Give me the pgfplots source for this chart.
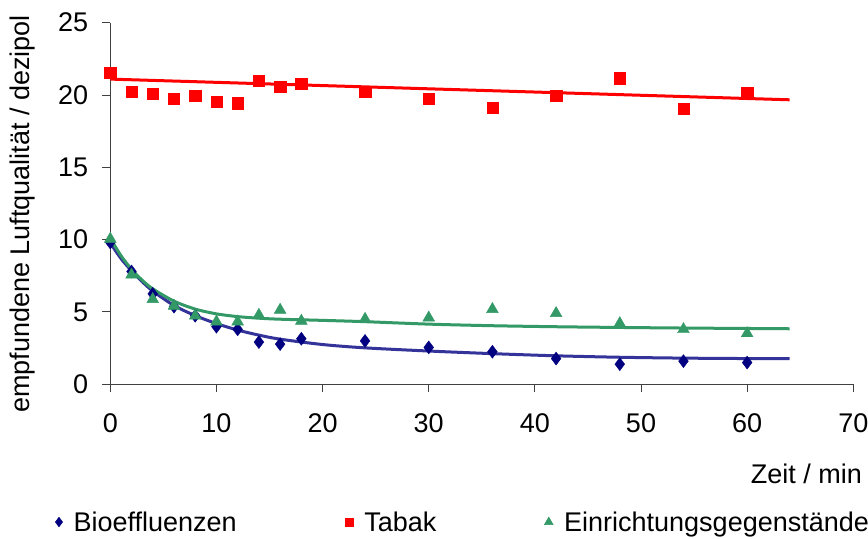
\documentclass[border=0pt]{standalone}
\usepackage{pgfplots}
\pgfplotsset{compat=1.18}
\usepackage{fontspec}
\setmainfont{Liberation Sans}
\definecolor{bionavy}{RGB}{0,0,128}
\definecolor{biofit}{RGB}{51,51,153}
\definecolor{tabred}{RGB}{255,0,0}
\definecolor{eingreen}{RGB}{51,153,102}
\definecolor{axgray}{RGB}{64,64,64}
\begin{document}
\begin{tikzpicture}[font=\fontsize{27bp}{32bp}\selectfont]
\begin{axis}[
  scale only axis,
  width=743bp, height=361.6bp,
  xmin=0, xmax=70, ymin=0, ymax=25,
  xtick={0,10,...,70}, ytick={0,5,...,25},
  axis x line*=bottom, axis y line*=left,
  axis line style={axgray, line width=1bp},
  tick style={axgray, line width=1bp},
  tick align=outside, major tick length=8bp,
  clip=false,
  /pgf/number format/assume math mode=true,
  ticklabel style={font=\fontsize{27bp}{32bp}\selectfont, inner sep=0pt},
  yticklabel style={xshift=-14bp},
  xticklabel style={yshift=-21bp},
  label style={font=\fontsize{27bp}{32bp}\selectfont, inner sep=0pt},
  ylabel={empfundene Luftqualität / dezipol},
  ylabel style={at={(axis description cs:-0.1188,0.471)}, anchor=center},
  xlabel={Zeit / min},
  xlabel style={at={(axis description cs:1.0117,-0.248)}, anchor=east},
  legend columns=3,
  legend style={at={(axis description cs:-0.074,-0.381)}, anchor=west,
    draw=none, inner sep=0pt, outer sep=0pt,
    font=\fontsize{27bp}{32bp}\selectfont,
    nodes={inner sep=0pt},
    /tikz/every odd column/.append style={column sep=11bp},
    /tikz/every even column/.append style={column sep=108bp}},
  legend cell align=left,
  legend image code/.code={\draw[#1] plot coordinates {(0bp,0bp)};},
  legend image post style={every mark/.append style={scale=0.75}},
]
% data points
\addplot[only marks, mark=diamond*, mark size=6.5bp, color=bionavy] coordinates {
(0,9.8) (2,7.8) (4,6.25) (6,5.37) (8,4.74) (10,3.98) (12,3.8) (14,2.92) (16,2.78) (18,3.15)
(24,3.0) (30,2.55) (36,2.25) (42,1.78) (48,1.39) (54,1.6) (60,1.5)};
\addlegendentry{Bioeffluenzen}
\addplot[only marks, mark=square*, mark size=5.7bp, color=tabred] coordinates {
(0,21.55) (2,20.25) (4,20.1) (6,19.75) (8,19.95) (10,19.55) (12,19.44) (14,20.97) (16,20.58) (18,20.79)
(24,20.25) (30,19.75) (36,19.14) (42,19.95) (48,21.16) (54,19.07) (60,20.14)};
\addlegendentry{Tabak}
\addplot[only marks, mark=triangle*, mark size=6.8bp, color=eingreen] coordinates {
(0,10.05) (2,7.57) (4,5.88) (6,5.42) (8,4.74) (10,4.33) (12,4.33) (14,4.79) (16,5.14) (18,4.38)
(24,4.51) (30,4.6) (36,5.19) (42,4.91) (48,4.21) (54,3.8) (60,3.52)};
\addlegendentry{Einrichtungsgegenstände}
% trend lines
\addplot[forget plot, no marks, smooth, color=biofit, line width=3bp] coordinates {
(0,9.77) (1,8.7) (2,7.85) (3,7.1) (4,6.45) (6,5.45) (8,4.75) (10,4.2) (12,3.75) (14,3.4)
(16,3.12) (20,2.75) (24,2.52) (30,2.3) (36,2.12) (42,1.97) (48,1.87) (54,1.81) (60,1.78) (64,1.77)};
\addplot[forget plot, no marks, color=tabred, line width=3bp] coordinates {(0,21.1) (64,19.67)};
\addplot[forget plot, no marks, smooth, color=eingreen, line width=3bp] coordinates {
(0,10.1) (1,8.9) (2,7.95) (3,7.2) (4,6.6) (6,5.75) (8,5.2) (10,4.87) (12,4.68) (14,4.57)
(16,4.5) (20,4.42) (24,4.33) (30,4.16) (36,4.05) (42,3.98) (48,3.93) (54,3.89) (60,3.86) (64,3.84)};
\coordinate (O) at (rel axis cs:0,0);
\end{axis}
\pgfresetboundingbox
\path ([shift={(-110.3bp,-154.7bp)}]O) rectangle ([shift={(757.7bp,384.3bp)}]O);
\end{tikzpicture}
\end{document}
